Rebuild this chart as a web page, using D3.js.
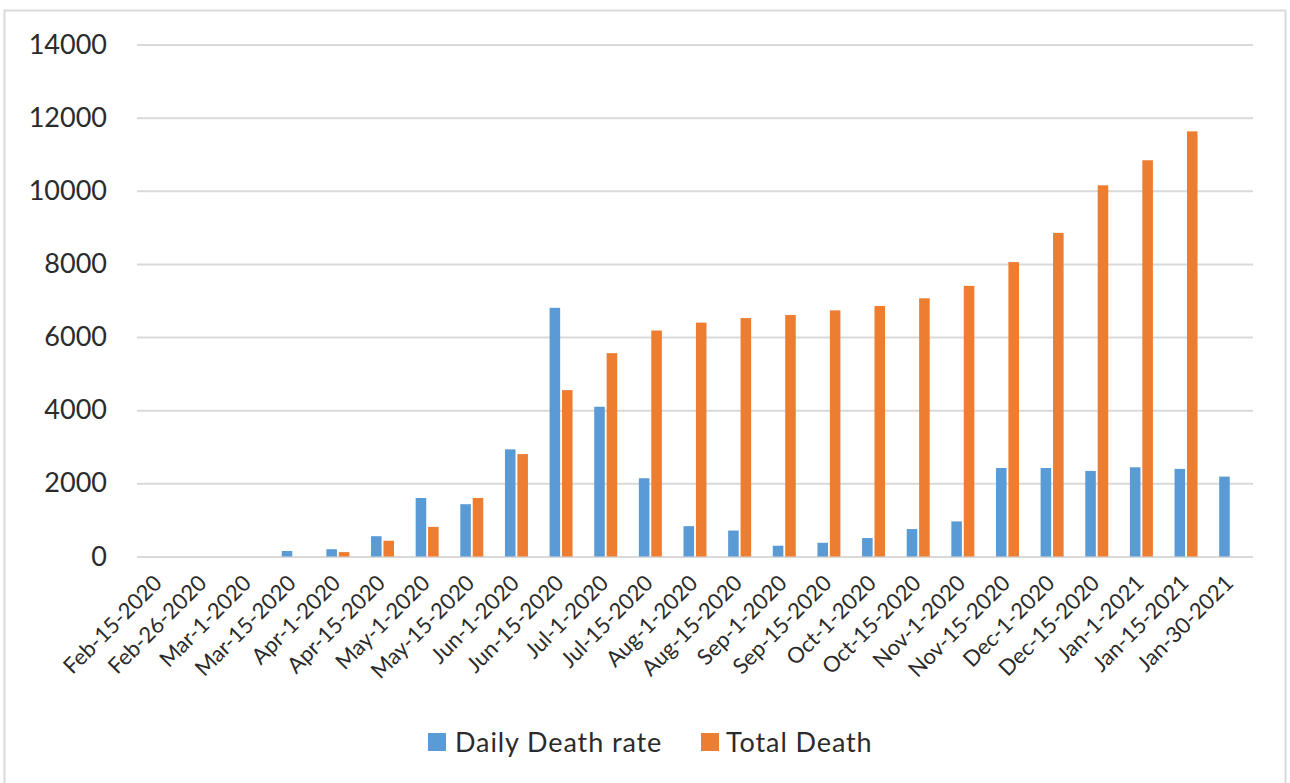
<!DOCTYPE html>
<html>
<head>
<meta charset="utf-8">
<script src="https://cdn.jsdelivr.net/npm/d3@7"></script>
<style>
  body { margin: 0; background: #fff; }
  svg { display: block; font-family: Lato, "Open Sans", sans-serif; }
</style>
</head>
<body>
<div id="chart"></div>
<script>
const dates = ["Feb-15-2020", "Feb-26-2020", "Mar-1-2020", "Mar-15-2020", "Apr-1-2020", "Apr-15-2020",
    "May-1-2020", "May-15-2020", "Jun-1-2020", "Jun-15-2020", "Jul-1-2020", "Jul-15-2020",
    "Aug-1-2020", "Aug-15-2020", "Sep-1-2020", "Sep-15-2020", "Oct-1-2020", "Oct-15-2020",
    "Nov-1-2020", "Nov-15-2020", "Dec-1-2020", "Dec-15-2020", "Jan-1-2021", "Jan-15-2021", "Jan-30-2021"];
const dailyDeath = [0, 0, 0, 150, 200, 555, 1600, 1430, 2930, 6800, 4095, 2140,
    830, 710, 295, 375, 505, 750, 960, 2420, 2420, 2340, 2440, 2395, 2185];
const totalDeath = [0, 0, 0, 0, 120, 430, 810, 1600, 2800, 4550, 5560, 6180,
    6395, 6520, 6605, 6730, 6850, 7060, 7400, 8050, 8850, 10150, 10835, 11625, 0];
const seriesNames = ["Daily Death rate", "Total Death"];
const yTicks = [0, 2000, 4000, 6000, 8000, 10000, 12000, 14000];

const colors = { "Daily Death rate": "#5b9bd5", "Total Death": "#ed7d31" };
const W = 1290, H = 783;
const plot = { left: 137, right: 1253, top: 44.5, bottom: 556.5 };

const svg = d3.select("#chart").append("svg").attr("width", W).attr("height", H);

// outer frame
svg.append("rect").attr("x", 4.5).attr("y", 10.5).attr("width", 1281).attr("height", 790)
    .attr("fill", "#fff").attr("stroke", "#d9d9d9").attr("stroke-width", 2);

const x0 = d3.scaleBand().domain(dates).range([plot.left, plot.right])
    .paddingInner(0.485).paddingOuter(0.2425);
const x1 = d3.scaleBand().domain(seriesNames).range([0, x0.bandwidth()]).paddingInner(0.15);
const y = d3.scaleLinear().domain([0, 14000]).range([plot.bottom, plot.top]);

// gridlines
svg.append("g")
    .attr("transform", `translate(${plot.left},0)`)
    .call(d3.axisLeft(y).tickValues(yTicks).tickSize(-(plot.right - plot.left)).tickFormat(""))
    .call(g => g.select(".domain").remove())
    .call(g => g.selectAll("line").attr("stroke", "#d9d9d9").attr("stroke-width", 2));

// y labels
svg.append("g")
    .attr("transform", "translate(107,0)")
    .call(d3.axisLeft(y).tickValues(yTicks).tickSize(0).tickPadding(0).tickFormat(d => d))
    .call(g => g.select(".domain").remove())
    .call(g => g.selectAll("text").attr("font-size", 27).attr("fill", "#2b2b2b")
        .attr("font-family", "Lato, sans-serif"));

// bars
const rows = dates.map((d, i) => ({ date: d, values: [dailyDeath[i], totalDeath[i]] }));
const groups = svg.append("g").selectAll("g").data(rows).join("g")
    .attr("transform", d => `translate(${x0(d.date)},0)`);
groups.selectAll("rect")
    .data(d => seriesNames.map((s, k) => ({ key: s, value: d.values[k] })))
    .join("rect")
    .attr("x", d => x1(d.key))
    .attr("width", x1.bandwidth())
    .attr("y", d => y(d.value))
    .attr("height", d => y(0) - y(d.value))
    .attr("fill", d => colors[d.key]);

// x labels
const xAxis = svg.append("g")
    .attr("transform", `translate(0,${plot.bottom})`)
    .call(d3.axisBottom(x0).tickSize(0).tickPadding(0))
    .call(g => g.select(".domain").remove());
xAxis.selectAll("text")
    .attr("font-size", 22).attr("fill", "#2b2b2b").attr("font-family", "Lato, sans-serif")
    .attr("text-anchor", "end")
    .attr("dy", null)
    .attr("transform", "translate(4,28) rotate(-45)");

// legend
const legend = svg.append("g").attr("transform", "translate(428,733)");
const items = [{ name: seriesNames[0], x: 0, tx: 27 }, { name: seriesNames[1], x: 273, tx: 25 }];
items.forEach(it => {
    const g = legend.append("g").attr("transform", `translate(${it.x},0)`);
    g.append("rect").attr("width", 18).attr("height", 18).attr("fill", colors[it.name]);
    g.append("text").attr("x", it.tx).attr("y", 9).attr("dy", "0.36em")
        .attr("font-size", 27).attr("letter-spacing", 0.9).attr("fill", "#2b2b2b").text(it.name);
});
</script>
</body>
</html>
